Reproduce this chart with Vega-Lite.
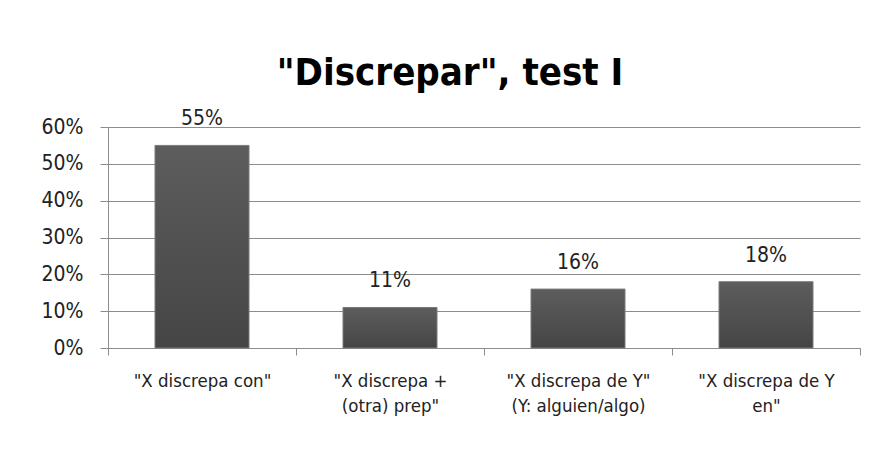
{
  "$schema": "https://vega.github.io/schema/vega-lite/v6.json",
  "width": 752,
  "height": 221,
  "autosize": {"type": "none"},
  "padding": {"left": 108, "top": 127, "right": 17, "bottom": 109},
  "background": "white",
  "title": {
    "text": "\"Discrepar\", test I",
    "font": "DejaVu Sans Condensed, sans-serif",
    "fontSize": 38,
    "fontWeight": "bold",
    "color": "#000000",
    "anchor": "middle",
    "dx": -34,
    "offset": 15
  },
  "data": {
    "values": [
      {"cat": "\"X discrepa con\"", "val": 0.55, "lab": "55%", "ord": 1},
      {"cat": "\"X discrepa +|(otra) prep\"", "val": 0.11, "lab": "11%", "ord": 2},
      {"cat": "\"X discrepa de Y\"|(Y: alguien/algo)", "val": 0.16, "lab": "16%", "ord": 3},
      {"cat": "\"X discrepa de Y|en\"", "val": 0.18, "lab": "18%", "ord": 4}
    ]
  },
  "encoding": {
    "x": {
      "field": "cat",
      "type": "nominal",
      "sort": {"field": "ord"},
      "scale": {"paddingInner": 0, "paddingOuter": 0},
      "axis": {
        "title": null,
        "labelAngle": 0,
        "labelExpr": "split(datum.label, '|')",
        "labelFont": "DejaVu Sans Condensed, sans-serif",
        "labelFontSize": 18.5,
        "labelColor": "#222222",
        "labelLineHeight": 25,
        "labelPadding": 16,
        "labelBaseline": "top",
        "tickBand": "extent",
        "tickSize": 7,
        "tickColor": "#8c8c8c",
        "domainColor": "#8c8c8c",
        "grid": false
      }
    },
    "y": {
      "field": "val",
      "type": "quantitative",
      "scale": {"domain": [0, 0.6]},
      "axis": {
        "title": null,
        "format": ".0%",
        "values": [0, 0.1, 0.2, 0.3, 0.4, 0.5, 0.6],
        "labelFont": "DejaVu Sans Condensed, sans-serif",
        "labelFontSize": 21,
        "labelColor": "#222222",
        "labelPadding": 17,
        "tickSize": 8,
        "tickColor": "#8c8c8c",
        "domain": true,
        "domainColor": "#8c8c8c",
        "grid": true,
        "gridColor": "#8c8c8c"
      }
    }
  },
  "layer": [
    {
      "mark": {
        "type": "bar",
        "width": {"band": 0.5},
        "stroke": "#7a7a7a",
        "strokeWidth": 1,
        "color": {
          "gradient": "linear",
          "x1": 0, "y1": 0, "x2": 0, "y2": 1,
          "stops": [
            {"offset": 0, "color": "#5d5d5d"},
            {"offset": 1, "color": "#454545"}
          ]
        }
      }
    },
    {
      "mark": {
        "type": "text",
        "dy": -16,
        "baseline": "bottom",
        "font": "DejaVu Sans Condensed, sans-serif",
        "fontSize": 21,
        "color": "#222222"
      },
      "encoding": {"text": {"field": "lab"}}
    }
  ],
  "config": {"view": {"stroke": null}}
}
